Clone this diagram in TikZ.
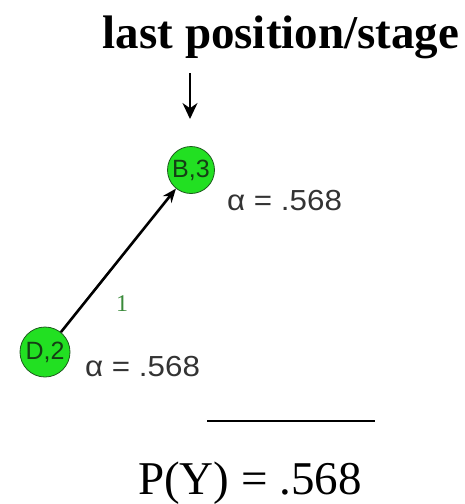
\documentclass[tikz,border=0pt]{standalone}
\usepackage{fontspec}
\setmainfont{Liberation Serif}
\newfontfamily\labelfont{Liberation Sans}
\usepackage{xcolor}
\usetikzlibrary{arrows.meta, positioning}

\definecolor{nodegreen}{HTML}{22E022}
\definecolor{rimgreen}{HTML}{1E5A1E}
\definecolor{txtgreen}{HTML}{3A8A3A}
\definecolor{txtgray}{HTML}{333333}

\tikzset{
    stage/.style={circle, minimum size=47pt, inner sep=0pt, fill=nodegreen, draw=rimgreen, line width=0.8pt,
        font=\labelfont\fontsize{25}{25}\selectfont, text=rimgreen!70!black},
    alphalabel/.style={anchor=west, inner sep=0pt, xscale=1.08, text=txtgray, font=\labelfont\fontsize{29}{29}\selectfont}
}

\begin{document}
\begin{tikzpicture}[x=1pt, y=-1pt, >={Stealth[length=14pt, width=11pt]}]
        \useasboundingbox (0,0) rectangle (465,504);

        % Titel
        \node[anchor=base, inner sep=0pt, font=\bfseries\fontsize{47}{47}\selectfont] (title) at (281,48) {last position/stage};
        \coordinate (pointfrom) at (190,73);
        \coordinate (pointto) at (190,119);
        \draw[->, line width=2pt, >={Stealth[length=16pt, width=15pt]}] (pointfrom) -- (pointto);

        % Knoten
        \node[stage] (b3) at (191,170) {B,3};
        \node[stage, minimum size=50pt] (d2) at (45,352) {D,2};

        \node[alphalabel] (alphab) at (227,201) {α = .568};
        \node[alphalabel] (alphad) at (85,367) {α = .568};

        % Kante
        \draw[->, line width=2.6pt] (d2) -- (b3.-129);
        \node[text=txtgreen, font=\fontsize{24}{24}\selectfont] (weight) at (122,304) {1};

        % Ergebnis
        \coordinate (barleft) at (207,421);
        \coordinate (barright) at (375,421);
        \draw[line width=1.6pt] (barleft) -- (barright);
        \node[anchor=base, inner sep=0pt, font=\fontsize{47}{47}\selectfont] (result) at (250,494) {P(Y) = .568};

    \end{tikzpicture}
\end{document}
